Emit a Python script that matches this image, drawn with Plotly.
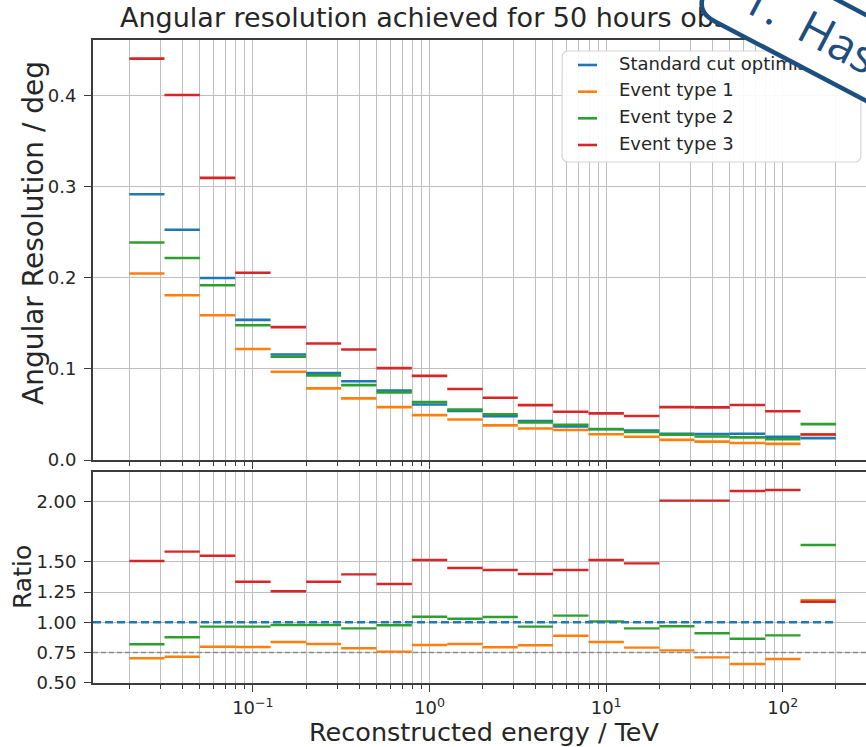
import math
import plotly.graph_objects as go

W, H = 866, 747

# Reconstructed-energy bin edges (TeV), five bins per decade
edges = [0.02, 0.0316, 0.0501, 0.0794, 0.126, 0.2, 0.316, 0.501, 0.794, 1.26,
         2.0, 3.16, 5.01, 7.94, 12.6, 20.0, 31.6, 50.1, 79.4, 126.0, 200.0]

# Angular resolution (deg) per bin
standard = [0.292, 0.253, 0.200, 0.154, 0.116, 0.0955, 0.0866, 0.0762, 0.061, 0.0538,
            0.048, 0.0428, 0.0368, 0.0338, 0.0324, 0.0288, 0.0285, 0.0288, 0.0255, 0.024]
event_type_1 = [0.205, 0.181, 0.159, 0.122, 0.097, 0.0787, 0.0677, 0.0581, 0.0493, 0.0445,
                0.038, 0.0346, 0.0329, 0.0283, 0.0256, 0.0221, 0.0202, 0.0187, 0.0177, 0.0283]
event_type_2 = [0.239, 0.222, 0.192, 0.148, 0.1135, 0.093, 0.0823, 0.0743, 0.0637, 0.0553,
                0.0502, 0.0413, 0.0388, 0.0341, 0.0308, 0.0279, 0.0259, 0.0249, 0.0228, 0.0394]
event_type_3 = [0.441, 0.401, 0.310, 0.2057, 0.146, 0.128, 0.1214, 0.101, 0.0924, 0.078,
                0.0684, 0.0603, 0.053, 0.0512, 0.0483, 0.0581, 0.0578, 0.0604, 0.0535, 0.0281]

# Ratio to the standard cut optimisation
ratio_type_1 = [0.702, 0.715, 0.798, 0.795, 0.837, 0.82, 0.785, 0.757, 0.812, 0.82,
                0.793, 0.81, 0.889, 0.837, 0.79, 0.768, 0.71, 0.655, 0.696, 1.182]
ratio_type_2 = [0.818, 0.876, 0.964, 0.964, 0.978, 0.978, 0.95, 0.975, 1.046, 1.03,
                1.044, 0.964, 1.055, 1.008, 0.95, 0.967, 0.909, 0.864, 0.892, 1.64]
ratio_type_3 = [1.507, 1.585, 1.551, 1.336, 1.257, 1.336, 1.397, 1.317, 1.516, 1.45,
                1.433, 1.40, 1.433, 1.516, 1.488, 2.007, 2.007, 2.087, 2.095, 1.17]

labels = ["Standard cut optimisation", "Event type 1", "Event type 2", "Event type 3"]
colors = ["#1f77b4", "#ff7f0e", "#2ca02c", "#d62728"]

major_x = [0.1, 1, 10, 100]
major_x_text = ["10<sup>\u22121</sup>", "10<sup>0</sup>", "10<sup>1</sup>", "10<sup>2</sup>"]
minor_x = [m * 10 ** d for d in range(-2, 3) for m in range(2, 10)]
res_ticks = [0.0, 0.1, 0.2, 0.3, 0.4]
ratio_ticks = [0.5, 0.75, 1.0, 1.25, 1.5, 2.0]

FONT = "DejaVu Sans"
TXT = "#262626"
GRID = "#bfbfbf"
SPINE = "#3c3c3c"
BUBBLE = "#1d4e80"
X_RANGE = [-1.905, 2.471]


def px_y(p):
    return 1 - p / H


def steps(vals):
    xs, ys = [], []
    for i, v in enumerate(vals):
        xs += [edges[i], edges[i + 1], None]
        ys += [v, v, None]
    return xs, ys


fig = go.Figure()

# upper panel: angular resolution per bin
for name, vals, col in zip(labels, [standard, event_type_1, event_type_2, event_type_3], colors):
    xs, ys = steps(vals)
    fig.add_trace(go.Scatter(x=xs, y=ys, mode="lines", name=name, showlegend=False,
                             line=dict(color=col, width=2.6), xaxis="x", yaxis="y"))

# lower panel: 0.75 guide, ratios, and the unit line of the standard cuts
fig.add_trace(go.Scatter(x=[10 ** X_RANGE[0], 10 ** X_RANGE[1]], y=[0.75, 0.75], mode="lines",
                         showlegend=False, hoverinfo="skip",
                         line=dict(color="#8c8c8c", width=1.5, dash="5px,3px"),
                         xaxis="x2", yaxis="y2"))
for name, vals, col in zip(labels[1:], [ratio_type_1, ratio_type_2, ratio_type_3], colors[1:]):
    xs, ys = steps(vals)
    fig.add_trace(go.Scatter(x=xs, y=ys, mode="lines", name=name, showlegend=False,
                             line=dict(color=col, width=2.4), xaxis="x2", yaxis="y2"))
fig.add_trace(go.Scatter(x=[10 ** X_RANGE[0], edges[-1]], y=[1.0, 1.0], mode="lines",
                         name=labels[0], showlegend=False,
                         line=dict(color=colors[0], width=2.4, dash="8px,4px"),
                         xaxis="x2", yaxis="y2"))

# pixel-space overlay: title and legend
fig.add_trace(go.Scatter(x=[120], y=[20], mode="text",
                         text=["Angular resolution achieved for 50 hours observation"],
                         textposition="middle right",
                         textfont=dict(family=FONT, size=27, color=TXT),
                         showlegend=False, xaxis="x3", yaxis="y3"))

lx0, lx1, ly0, ly1, lr = 562, 861, 51, 162, 6
bx, by = [], []
for (cxr, cyr, a0) in [(lx1 - lr, ly0 + lr, -90), (lx1 - lr, ly1 - lr, 0),
                       (lx0 + lr, ly1 - lr, 90), (lx0 + lr, ly0 + lr, 180)]:
    for k in range(7):
        a = math.radians(a0 + 15 * k)
        bx.append(cxr + lr * math.cos(a))
        by.append(cyr + lr * math.sin(a))
bx.append(bx[0])
by.append(by[0])
fig.add_trace(go.Scatter(x=bx, y=by, mode="lines", fill="toself",
                         fillcolor="rgba(255,255,255,0.9)",
                         line=dict(color="#d6d6d6", width=1.2),
                         showlegend=False, xaxis="x3", yaxis="y3"))
row_y = [65, 91.7, 118.3, 145]
for lab, col, yy in zip(labels, colors, row_y):
    fig.add_trace(go.Scatter(x=[578, 597], y=[yy, yy], mode="lines",
                             line=dict(color=col, width=2.6),
                             showlegend=False, xaxis="x3", yaxis="y3"))
fig.add_trace(go.Scatter(x=[619] * 4, y=row_y, mode="text", text=labels,
                         textposition="middle right",
                         textfont=dict(family=FONT, size=18, color=TXT),
                         showlegend=False, xaxis="x3", yaxis="y3"))

# rotated speech-bubble label in the top-right corner
th = math.radians(27.7)
ux, uy = math.cos(th), math.sin(th)
vx, vy = math.sin(th), -math.cos(th)
c0x, c0y = 695, 11
BL, BH, BR = 430, 76, 22


def bp(a, b):
    return "%.1f,%.1f" % (c0x + a * ux + b * vx, c0y + a * uy + b * vy)


bubble = ("M" + bp(BR, 0) + " L" + bp(BL - BR, 0) + " Q" + bp(BL, 0) + " " + bp(BL, BR) +
          " L" + bp(BL, BH - BR) + " Q" + bp(BL, BH) + " " + bp(BL - BR, BH) +
          " L" + bp(BR, BH) + " Q" + bp(0, BH) + " " + bp(0, BH - BR) +
          " L" + bp(0, BR) + " Q" + bp(0, 0) + " " + bp(BR, 0) + " Z")

fig.add_shape(type="path", path=bubble, xref="x3", yref="y3", layer="above",
              fillcolor="white", line=dict(color=BUBBLE, width=4.5))
fig.add_annotation(x=845, y=44, xref="x3", yref="y3", text="T.\u00a0\u00a0Hassan",
                   showarrow=False, textangle=27.7, xanchor="center", yanchor="middle",
                   font=dict(family="Open Sans", size=46, color=BUBBLE))

# axis titles
fig.add_annotation(x=33, y=233, xref="x3", yref="y3", text="Angular Resolution / deg",
                   textangle=-90, showarrow=False,
                   font=dict(family=FONT, size=28, color=TXT))
fig.add_annotation(x=22, y=577, xref="x3", yref="y3", text="Ratio",
                   textangle=-90, showarrow=False,
                   font=dict(family=FONT, size=25, color=TXT))
fig.add_annotation(x=484, y=732, xref="x3", yref="y3", text="Reconstructed energy / TeV",
                   showarrow=False, font=dict(family=FONT, size=25.5, color=TXT))

xcommon = dict(type="log", range=X_RANGE, domain=[93 / W, 1],
               tickmode="array", tickvals=major_x, ticktext=major_x_text,
               ticks="outside", ticklen=7, tickwidth=1.4, tickcolor=SPINE,
               showgrid=True, gridcolor=GRID, gridwidth=1.4,
               minor=dict(tickmode="array", tickvals=minor_x, ticks="outside", ticklen=4,
                          tickwidth=1.1, tickcolor=SPINE, showgrid=True,
                          gridcolor=GRID, gridwidth=1.4),
               showline=True, linecolor=SPINE, linewidth=1.8, mirror=True,
               zeroline=False, automargin=False,
               tickfont=dict(family=FONT, size=18, color=TXT))
ycommon = dict(ticks="outside", ticklen=7, tickwidth=1.4, tickcolor=SPINE,
               showgrid=True, gridcolor=GRID, gridwidth=1.4,
               showline=True, linecolor=SPINE, linewidth=1.8, mirror=False,
               zeroline=False, automargin=False,
               tickfont=dict(family=FONT, size=18, color=TXT),
               ticklabelstandoff=4)

fig.update_layout(
    width=W, height=H, autosize=False,
    margin=dict(l=0, r=0, t=0, b=0, pad=0, autoexpand=False),
    paper_bgcolor="white", plot_bgcolor="rgba(0,0,0,0)",
    font=dict(family=FONT, color=TXT),
    showlegend=False,
    xaxis=dict(xcommon, anchor="y", showticklabels=False),
    yaxis=dict(ycommon, anchor="x", domain=[px_y(460), px_y(40)], range=[0, 0.4615],
               tickmode="array", tickvals=res_ticks, tickformat=".1f"),
    xaxis2=dict(xcommon, anchor="y2", matches="x", ticklabelstandoff=1),
    yaxis2=dict(ycommon, anchor="x2", domain=[px_y(682.7), px_y(471.7)], range=[0.5, 2.2467],
                tickmode="array", tickvals=ratio_ticks, tickformat=".2f"),
    xaxis3=dict(domain=[0, 1], range=[0, W], visible=False, anchor="y3",
                fixedrange=True, automargin=False),
    yaxis3=dict(domain=[0, 1], range=[H, 0], visible=False, anchor="x3",
                fixedrange=True, automargin=False),
)

fig.write_html("out.html")
